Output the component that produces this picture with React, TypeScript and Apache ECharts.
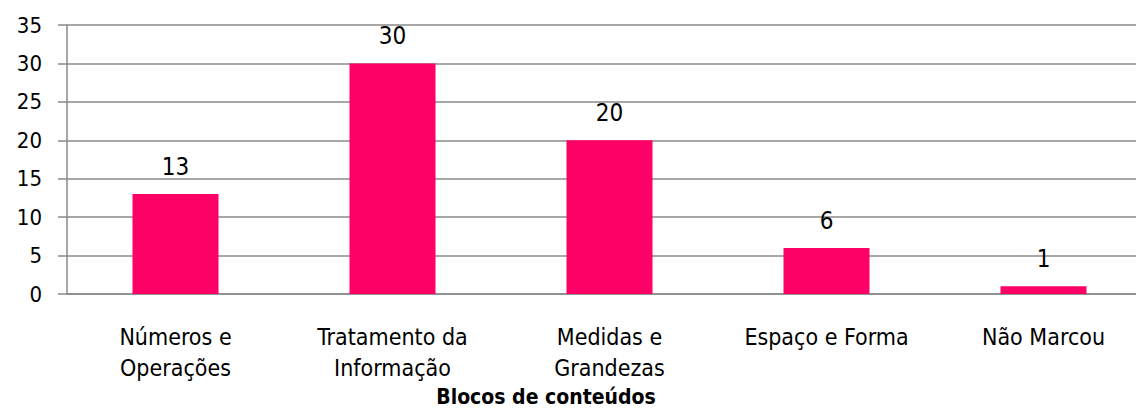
import React, { useEffect, useRef } from "react";
import * as echarts from "echarts";

const categories = [
  "Números e\nOperações",
  "Tratamento da\nInformação",
  "Medidas e\nGrandezas",
  "Espaço e Forma",
  "Não Marcou",
];
const values = [13, 30, 20, 6, 1];
const yTicks = { min: 0, max: 35, interval: 5 };
const axisTitle = "Blocos de conteúdos";

const FONT = "'DejaVu Sans Condensed', 'DejaVu Sans', sans-serif";

export default function App() {
  const ref = useRef<HTMLDivElement>(null);
  useEffect(() => {
    if (!ref.current) return;
    const chart = echarts.init(ref.current, undefined, { renderer: "svg" });
    chart.setOption({
      animation: false,
      backgroundColor: "#ffffff",
      grid: {
        left: 67,
        width: 1085,
        top: 25,
        bottom: 114,
        containLabel: false,
        outerBoundsMode: "none",
      },
      xAxis: {
        type: "category",
        data: categories,
        boundaryGap: true,
        axisLine: { show: true, lineStyle: { color: "#8a8a8a", width: 1.5 } },
        axisTick: { show: false },
        axisLabel: {
          interval: 0,
          margin: 27,
          color: "#000",
          fontFamily: FONT,
          fontSize: 23,
          lineHeight: 31,
          align: "center",
        },
      },
      yAxis: {
        type: "value",
        min: yTicks.min,
        max: yTicks.max,
        interval: yTicks.interval,
        axisLine: { show: true, lineStyle: { color: "#8a8a8a", width: 1.5 } },
        axisTick: { show: true, length: 9, lineStyle: { color: "#8a8a8a", width: 1.5 } },
        splitLine: { show: true, lineStyle: { color: "#8a8a8a", width: 1.5 } },
        axisLabel: {
          margin: 25,
          color: "#000",
          fontFamily: FONT,
          fontSize: 22,
        },
      },
      series: [
        {
          type: "bar",
          data: values,
          barWidth: 86,
          itemStyle: { color: "#ff0066" },
          label: {
            show: true,
            position: "top",
            distance: 15,
            color: "#000",
            fontFamily: FONT,
            fontSize: 24,
          },
        },
      ],
      graphic: [
        {
          type: "text",
          x: 546,
          y: 397,
          style: {
            text: axisTitle,
            fill: "#000",
            font: `bold 21px ${FONT}`,
            textAlign: "center",
            textVerticalAlign: "middle",
            align: "center",
            verticalAlign: "middle",
          },
        },
      ],
    });
    return () => chart.dispose();
  }, []);
  return (
    <div
      ref={ref}
      style={{ position: "absolute", left: 0, top: 0, width: 1136, height: 408, overflow: "hidden" }}
    />
  );
}
